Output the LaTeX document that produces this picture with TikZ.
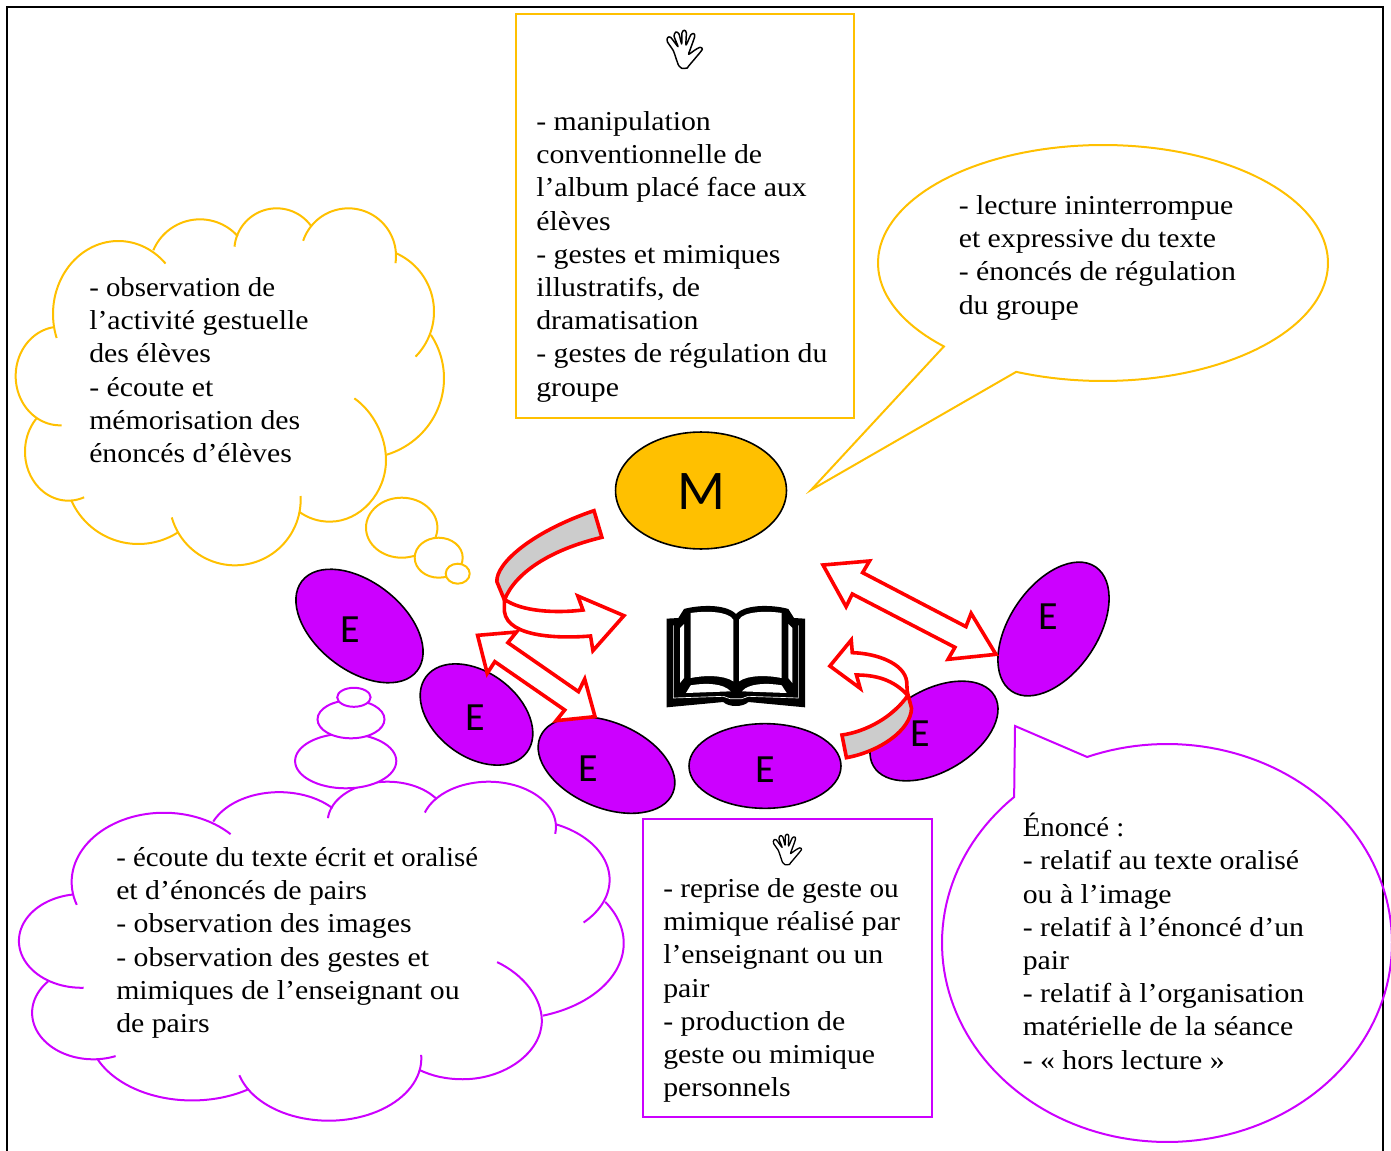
\documentclass[tikz,border=0pt]{standalone}
\usepackage{fontspec}
\setmainfont[FakeStretch=1.09]{Liberation Serif}
\newfontfamily\fontb[FakeStretch=1.07]{Liberation Serif}
\newfontfamily\fontc[FakeStretch=1.055]{Liberation Serif}
\newfontfamily\sansE{Carlito}
\usetikzlibrary{shapes.geometric}
\definecolor{ocre}{HTML}{FFC000}
\definecolor{violet1}{HTML}{CC00FF}
\definecolor{gris1}{HTML}{CCCCCC}
\newcommand{\cbump}[7]{\draw[#1] plot[domain=#6:#7,samples=50] ({#2+#4*cos(\x)},{#3+#5*sin(\x)});}
\newcommand{\cloudarcs}[1]{%
\cbump{#1}{355}{372}{196}{219}{160.8}{316.3}
\cbump{#1}{600}{240}{152}{152}{202.9}{318.2}
\cbump{#1}{830}{182}{127}{127}{185.4}{325.6}
\cbump{#1}{1045}{198}{143}{143}{198.6}{368.7}
\cbump{#1}{1110}{365}{192}{192}{-66}{44.6}
\cbump{#1}{1087}{565}{245}{240}{-32.9}{72.6}
\draw[#1] (1063,625) .. controls (1120,665) and (1158,740) .. (1158,810) .. controls (1158,910) and (1080,995) .. (990,995) .. controls (955,995) and (925,985) .. (897,965);
\cbump{#1}{705}{929}{197}{197}{-3.2}{164.3}
\cbump{#1}{415}{842}{220}{220}{56.7}{156.4}
\cbump{#1}{205}{785}{130}{147}{68.6}{222.3}
\cbump{#1}{180}{558}{133}{148}{88}{262.7}
}
\newcommand{\handshape}[1]{%
\draw[line width=#1,fill=white,line join=round] plot[smooth,tension=.45] coordinates {(85,135)(78,115)(70,92)(52,65)(53,53)(62,52)(84,80)(72,48)(78,36)(87,42)(95,72)(96,38)(103,31)(109,38)(108,75)(122,45)(131,41)(134,50)(120,90)(116,103)(135,90)(150,82)(157,88)(138,112)(116,138)(112,144)(95,145)(85,135)};
}
\tikzset{
  frameline/.style={line width=1.6pt,black},
  cloudY/.style={ocre,line width=1.5pt},
  cloudV/.style={violet1,line width=1.5pt},
  puff/.style={fill=white,line width=1.5pt},
  txt/.style={anchor=north west,align=left,inner sep=0pt,font=\fontsize{20.5}{24.9}\selectfont},
  pers/.style={ellipse,draw=black,line width=1.2pt,fill=violet1,inner sep=0pt},
  persT/.style={font=\sansE\fontsize{30}{30}\selectfont,inner sep=0pt},
  redarrow/.style={draw=red,line width=2.7pt,fill=white,line join=miter,miter limit=4},
  redribbon/.style={draw=red,line width=2.7pt,fill=gris1,line join=miter,miter limit=4},
}
\begin{document}
\begin{tikzpicture}[x=0.75pt,y=-0.75pt]
\useasboundingbox (0,0) rectangle (1391,1151);
% frame
\coordinate (f1) at (7,1155);
\coordinate (f2) at (7,7);
\coordinate (f3) at (1383,7);
\coordinate (f4) at (1383,1155);
\begin{scope}
\clip (0,0) rectangle (1391,1151);
\draw[frameline] (f1) -- (f2) -- (f3) -- (f4);
\end{scope}
% yellow cloud
\begin{scope}[shift={(0,190)},x=0.25pt,y=-0.25pt]
\cloudarcs{cloudY}
\end{scope}
\draw[puff,draw=ocre] (401.7,527.7) ellipse [x radius=35.7,y radius=30];
\draw[puff,draw=ocre] (438.7,557.7) ellipse [x radius=24,y radius=20];
\draw[puff,draw=ocre] (457.7,573.7) ellipse [x radius=12,y radius=10];
% violet cloud
\begin{scope}[shift={(-3.2,764.3)},x=0.3530pt,y=-0.2374pt]
\cloudarcs{cloudV}
\end{scope}
\draw[puff,draw=violet1] (345.7,761) ellipse [x radius=50.6,y radius=27.3];
\draw[puff,draw=violet1] (351,719.3) ellipse [x radius=33.5,y radius=19];
\draw[puff,draw=violet1] (353.9,697.3) ellipse [x radius=16.7,y radius=9.5];
% yellow callout
\draw[ocre,line width=1.5pt,line join=miter] plot[domain=112.7:-225,samples=140] ({1103+225*cos(\x)},{263+118*sin(\x)}) -- (811,490) -- cycle;
% violet callout
\begin{scope}
\clip (0,0) rectangle (1391,1151);
\draw[violet1,line width=1.5pt,line join=miter] plot[domain=-110.8:227.2,samples=160] ({1167+225*cos(\x)},{943+199*sin(\x)}) -- (1015,726) -- cycle;
\end{scope}
% boxes
\draw[ocre,line width=1.5pt] (516,14) rectangle (854,418);
\draw[violet1,line width=1.5pt] (643,819) rectangle (932,1117);
% hands
\begin{scope}[shift={(650,20)},x=0.25pt,y=-0.25pt]
\handshape{1.1pt}
\end{scope}
\begin{scope}[shift={(759.7,826)},x=0.2pt,y=-0.2pt]
\handshape{1pt}
\end{scope}
% texts
\node[txt] (tBoxM) at (536,107) {\strut- manipulation\\conventionnelle de\\l’album placé face aux\\élèves\\- gestes et mimiques\\illustratifs, de\\dramatisation\\- gestes de régulation du\\groupe};
\node[txt] (tCloudM) at (89,273) {\fontc\strut- observation de\\l’activité gestuelle\\des élèves\\- écoute et\\mémorisation des\\énoncés d’élèves};
\node[txt] (tCallM) at (958.5,191) {\strut- lecture ininterrompue\\et expressive du texte\\- énoncés de régulation\\du groupe};
\node[txt] (tCloudE) at (116,843) {\fontc\strut- écoute du texte écrit et oralisé\\et d’énoncés de pairs\\- observation des images\\- observation des gestes et\\mimiques de l’enseignant ou\\de pairs};
\node[txt] (tBoxE) at (663,874) {\fontb\strut- reprise de geste ou\\mimique réalisé par\\l’enseignant ou un\\pair\\- production de\\geste ou mimique\\personnels};
\node[txt] (tCallE) at (1022.5,813) {\fontc\strut Énoncé :\\- relatif au texte oralisé\\ou à l’image\\- relatif à l’énoncé d’un\\pair\\- relatif à l’organisation\\matérielle de la séance\\- « hors lecture »};
% persons
\node[ellipse,draw=black,line width=1.2pt,fill=ocre,inner sep=0pt,minimum width=128.2pt,minimum height=87.7pt] (M) at (701,490.5) {};
\node[font=\sansE\fontsize{42}{42}\selectfont,inner sep=0pt] (Mt) at (701,492) {M};
\node[pers,rotate=-38,minimum width=109.5pt,minimum height=66pt] (e1) at (359.5,626) {};
\node[pers,rotate=-37,minimum width=94.5pt,minimum height=63pt] (e2) at (476.5,714.5) {};
\node[pers,rotate=-23,minimum width=108pt,minimum height=64pt] (e3) at (606.5,765) {};
\node[pers,minimum width=114pt,minimum height=63.5pt] (e4) at (765,766) {};
\node[pers,rotate=30,minimum width=105pt,minimum height=61.5pt] (e5) at (934,731) {};
\node[pers,rotate=56,minimum width=112.5pt,minimum height=66pt] (e6) at (1053.5,629) {};
\node[persT] (e1t) at (350.5,630) {E};
\node[persT] (e2t) at (475.5,718) {E};
\node[persT] (e3t) at (588.5,769) {E};
\node[persT] (e4t) at (765,770) {E};
\node[persT] (e5t) at (920,734) {E};
\node[persT] (e6t) at (1048.5,617) {E};
% red arrows
\begin{scope}[shift={(470,500)},x=0.2583pt,y=-0.25pt]
\draw[redarrow] (1025,195) -- (1160,183) -- (1140,218) -- (1440,380) -- (1455,340) -- (1527,463) -- (1388,478) -- (1408,442) -- (1110,282) -- (1092,320) -- cycle;
\draw[redarrow] (22,406) -- (135,396) -- (110,428) -- (315,575) -- (333,537) -- (363,650) -- (250,662) -- (275,630) -- (72,485) -- (50,520) -- cycle;
\draw[redribbon] (360,32) .. controls (180,95) and (75,190) .. (78,245) -- (100,300) .. controls (130,220) and (230,150) .. (383,112) -- cycle;
\draw[redarrow] (100,298) .. controls (150,335) and (250,340) .. (328,330) -- (313,288) -- (447,347) -- (357,452) -- (350,408) .. controls (270,415) and (110,415) .. (100,335) -- cycle;
\draw[redarrow] (1270,585) .. controls (1230,540) and (1180,525) .. (1122,525) -- (1133,565) -- (1045,498) -- (1107,420) -- (1110,458) .. controls (1180,460) and (1262,490) .. (1268,545) -- cycle;
\draw[redribbon] (1080,705) .. controls (1150,695) and (1230,650) .. (1272,585) -- (1282,625) .. controls (1280,690) and (1190,755) .. (1093,773) -- cycle;
\end{scope}
% book
\begin{scope}[shift={(660,598)},x=0.25pt,y=-0.25pt]
\fill[black] (20,62) -- (55,60) -- (72,33) .. controls (110,22) and (195,15) .. (228,48) .. controls (260,15) and (350,22) .. (385,33) -- (402,60) -- (435,62) -- (435,328) -- (265,312) .. controls (250,328) and (205,328) .. (190,312) -- (20,328) -- cycle;
\fill[white] (92,45) .. controls (140,38) and (205,40) .. (220,65) -- (220,250) .. controls (190,230) and (130,232) .. (92,240) -- cycle;
\fill[white] (237,65) .. controls (250,40) and (320,38) .. (365,45) -- (365,240) .. controls (325,232) and (265,230) .. (237,250) -- cycle;
\fill[white] (92,262) .. controls (140,254) and (190,256) .. (212,280) -- (78,285) -- cycle;
\fill[white] (246,280) .. controls (265,256) and (320,254) .. (365,262) -- (380,285) -- cycle;
\fill[white] (60,90) -- (72,78) -- (72,240) -- (60,255) -- cycle;
\fill[white] (385,78) -- (397,90) -- (397,255) -- (385,240) -- cycle;
\draw[white,line width=0.5pt] (40,82) -- (40,300) -- (190,295) -- (210,302) -- (245,302) -- (265,295) -- (415,300) -- (415,82);
\end{scope}
\end{tikzpicture}
\end{document}
